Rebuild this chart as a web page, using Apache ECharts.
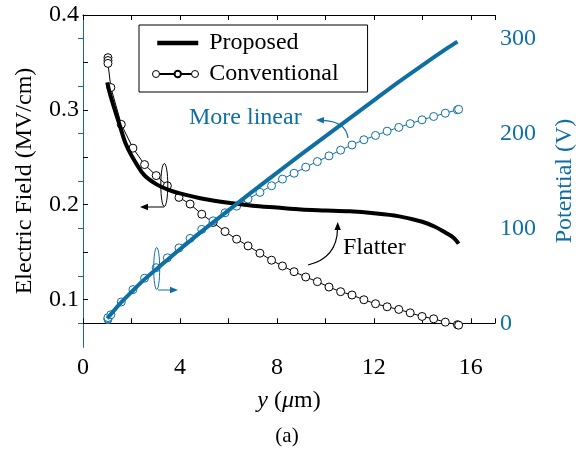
<!DOCTYPE html>
<html>
<head>
<meta charset="utf-8">
<script src="https://cdn.jsdelivr.net/npm/echarts@6.0.0/dist/echarts.min.js"></script>
<style>
  html, body { margin: 0; padding: 0; background: #fff; }
  #chart { width: 587px; height: 454px; }
</style>
</head>
<body>
<div id="chart"></div>
<script>
// values
var propEX = [1.0, 1.1, 1.25, 1.5, 1.75, 2, 2.5, 3, 3.5, 4, 5, 6, 7, 8, 9, 10, 11, 12, 13, 14, 14.5, 15, 15.3, 15.5];
var propE = [0.329, 0.318, 0.305, 0.285, 0.265, 0.252, 0.232, 0.222, 0.216, 0.212, 0.206, 0.202, 0.199, 0.197, 0.195, 0.194, 0.193, 0.191, 0.188, 0.182, 0.177, 0.170, 0.165, 0.159];

var propVX = [1.0, 1.5, 2, 2.5, 3, 4, 5, 6, 7, 8, 9, 10, 11, 12, 13, 14, 15, 15.45];
var propV = [5, 20, 33, 45.5, 56.5, 78, 99, 119, 139, 158.5, 178, 197, 216, 235, 254, 272, 289.5, 297];

var convX = [1.03, 1.03, 1.03, 1.15, 1.58, 2.06, 2.54, 3.02, 3.48, 3.96,
             4.42, 4.9, 5.37, 5.86, 6.34, 6.81, 7.3, 7.78,
             8.23, 8.71, 9.19, 9.67, 10.15, 10.63, 11.1, 11.59,
             12.07, 12.55, 13.03, 13.5, 13.99, 14.47, 14.95, 15.45, 15.5];
var convE = [0.355, 0.352, 0.349, 0.3235, 0.2847, 0.2596, 0.2423, 0.2307, 0.220, 0.2077,
             0.2007, 0.190, 0.1813, 0.1717, 0.1637, 0.1566, 0.1489, 0.1415,
             0.1354, 0.1294, 0.1238, 0.1189, 0.1132, 0.1083, 0.1048, 0.0998,
             0.0956, 0.0924, 0.0896, 0.086, 0.0822, 0.0797, 0.0762, 0.0735, 0.073];
var convV = [4, 5, 6, 9, 22.5, 35.5, 47.5, 58.6, 69, 79.5,
             89.5, 99, 108, 116.5, 123.5, 131, 138, 145,
             152, 158.2, 164.6, 170.5, 176.5, 182.5, 188, 193.5,
             198, 202.5, 206.5, 210.5, 214.5, 218, 221.5, 225, 225.5];

var xLabels = [0, 4, 8, 12, 16];
var eLabels = [0.1, 0.2, 0.3, 0.4];
var eTicks = [0.1, 0.15, 0.2, 0.25, 0.3, 0.35, 0.4];
var vLabels = [0, 100, 200, 300];
var vTicks = [0, 50, 100, 150, 200, 250, 300];

var BLUE = '#0f6fa3';
var FONT = 'Liberation Serif';

function pairs(xs, ys) {
    var out = [];
    for (var i = 0; i < xs.length; i++) out.push([xs[i], ys[i]]);
    return out;
}

// arrow head: tip at (tx,ty), coming from (fx,fy)
function arrowHead(tx, ty, fx, fy, color) {
    var a = Math.atan2(ty - fy, tx - fx);
    var len = 8, w = 3.2;
    var bx = tx - len * Math.cos(a), by = ty - len * Math.sin(a);
    return {
        type: 'polygon',
        shape: { points: [[tx, ty],
            [bx + w * Math.sin(a), by - w * Math.cos(a)],
            [bx - w * Math.sin(a), by + w * Math.cos(a)]] },
        style: { fill: color }
    };
}

var chart = echarts.init(document.getElementById('chart'));

var option = {
    animation: false,
    backgroundColor: '#fff',
    textStyle: { fontFamily: FONT },
    grid: { left: 83, right: 92, top: 15, bottom: 107 },
    legend: {
        data: [
            { name: 'Proposed', itemStyle: { opacity: 0 }, lineStyle: { width: 4.5, color: '#000' } },
            { name: 'Conventional' }
        ],
        orient: 'vertical',
        left: 139,
        top: 25,
        borderColor: '#000',
        borderWidth: 1,
        padding: [6, 29, 6, 16],
        itemGap: 7,
        itemWidth: 41,
        itemHeight: 8,
        textStyle: { fontFamily: FONT, fontSize: 24, color: '#000', padding: [0, 0, 0, 6] }
    },
    xAxis: [{
        type: 'value',
        min: 0, max: 17, interval: 2,
        name: '{i|y} ({i|\u03bc}m)',
        nameLocation: 'middle',
        nameGap: 42,
        nameTextStyle: {
            fontFamily: FONT, fontSize: 24, color: '#000',
            rich: { i: { fontFamily: FONT, fontSize: 24, fontStyle: 'italic', color: '#000' } }
        },
        axisLine: { lineStyle: { color: '#000', width: 1 } },
        axisTick: { inside: true, length: 5, lineStyle: { color: '#000' } },
        axisLabel: { customValues: xLabels, margin: 9, fontFamily: FONT, fontSize: 24, color: '#000' },
        splitLine: { show: false }
    }, {
        type: 'value',
        position: 'top',
        min: 0, max: 17, interval: 2,
        axisLine: { lineStyle: { color: '#000', width: 1 } },
        axisTick: { inside: true, length: 5, lineStyle: { color: '#000' } },
        axisLabel: { show: false },
        splitLine: { show: false }
    }],
    yAxis: [{
        type: 'value',
        min: 0.05, max: 0.4, interval: 0.05,
        name: 'Electric Field (MV/cm)',
        nameLocation: 'middle',
        nameRotate: 90,
        nameGap: 46,
        nameTextStyle: { fontFamily: FONT, fontSize: 24, color: '#000' },
        axisLine: { show: true, lineStyle: { color: '#000', width: 1 } },
        axisTick: { show: true, inside: true, length: 5, customValues: eTicks, lineStyle: { color: '#000' } },
        axisLabel: {
            customValues: eLabels, margin: 4, fontFamily: FONT, fontSize: 24, color: '#000',
            formatter: function (v) { return v.toFixed(1); }
        },
        splitLine: { show: false }
    }, {
        type: 'value',
        position: 'right',
        min: -25, max: 325, interval: 25,
        name: 'Potential (V)',
        nameLocation: 'middle',
        nameRotate: 90,
        nameGap: 58,
        nameTextStyle: { fontFamily: FONT, fontSize: 24, color: BLUE },
        axisLine: { show: true, lineStyle: { color: BLUE, width: 1 } },
        axisTick: { show: true, inside: true, length: 5, customValues: vTicks, lineStyle: { color: BLUE } },
        axisLabel: { customValues: vLabels, margin: 5, fontFamily: FONT, fontSize: 24, color: BLUE },
        splitLine: { show: false }
    }],
    series: [
        {
            name: 'Proposed',
            type: 'line',
            xAxisIndex: 0, yAxisIndex: 0,
            data: pairs(propEX, propE),
            smooth: 0.3,
            symbol: 'none',
            lineStyle: { color: '#000', width: 4 },
            itemStyle: { color: '#000' },
            z: 3
        },
        {
            name: 'Conventional',
            type: 'line',
            xAxisIndex: 0, yAxisIndex: 0,
            data: pairs(convX, convE),
            symbol: 'circle',
            symbolSize: 8,
            lineStyle: { color: '#000', width: 1 },
            itemStyle: { color: '#fff', borderColor: '#000', borderWidth: 1 },
            z: 2
        },
        {
            name: 'Proposed potential',
            type: 'line',
            xAxisIndex: 0, yAxisIndex: 1,
            data: pairs(propVX, propV),
            smooth: 0.3,
            symbol: 'none',
            lineStyle: { color: BLUE, width: 4 },
            itemStyle: { color: BLUE },
            z: 3
        },
        {
            name: 'Conventional potential',
            type: 'line',
            xAxisIndex: 0, yAxisIndex: 1,
            data: pairs(convX, convV),
            symbol: 'circle',
            symbolSize: 8,
            lineStyle: { color: BLUE, width: 1 },
            itemStyle: { color: '#fff', borderColor: BLUE, borderWidth: 1 },
            z: 2
        }
    ],
    graphic: [
        // extra circles on the Conventional legend icon
        { type: 'circle', shape: { cx: 156, cy: 74, r: 3.5 }, style: { fill: '#fff', stroke: '#000', lineWidth: 1 }, z: 100 },
        { type: 'circle', shape: { cx: 195, cy: 74, r: 3.5 }, style: { fill: '#fff', stroke: '#000', lineWidth: 1 }, z: 100 },

        // "More linear"
        { type: 'text', style: { text: 'More linear', x: 189, y: 118, verticalAlign: 'middle', font: '24px "Liberation Serif"', fill: BLUE }, z: 100 },
        { type: 'bezierCurve', shape: { x1: 348, y1: 138, x2: 322, y2: 120.3, cpx1: 346, cpy1: 121 }, style: { stroke: BLUE, lineWidth: 1.2, fill: null }, z: 100 },
        arrowHead(316, 120, 346, 121, BLUE),

        // "Flatter"
        { type: 'text', style: { text: 'Flatter', x: 343, y: 248, verticalAlign: 'middle', font: '24px "Liberation Serif"', fill: '#000' }, z: 100 },
        { type: 'bezierCurve', shape: { x1: 308, y1: 265, x2: 337.5, y2: 229, cpx1: 337, cpy1: 258 }, style: { stroke: '#000', lineWidth: 1.2, fill: null }, z: 100 },
        arrowHead(337.7, 222, 337.6, 240, '#000'),

        // left-axis marker
        { type: 'ellipse', shape: { cx: 164.3, cy: 185, rx: 3.5, ry: 21.5 }, style: { stroke: '#000', lineWidth: 1, fill: null }, z: 100 },
        { type: 'line', shape: { x1: 164, y1: 207, x2: 147, y2: 207 }, style: { stroke: '#000', lineWidth: 1 }, z: 100 },
        arrowHead(140, 207, 164, 207, '#000'),

        // right-axis marker
        { type: 'ellipse', shape: { cx: 156.7, cy: 268.5, rx: 3, ry: 21 }, style: { stroke: BLUE, lineWidth: 1, fill: null }, z: 100 },
        { type: 'line', shape: { x1: 158, y1: 290, x2: 171, y2: 290 }, style: { stroke: BLUE, lineWidth: 1 }, z: 100 },
        arrowHead(178, 290, 158, 290, BLUE),

        // caption
        { type: 'text', style: { text: '(a)', x: 287, y: 436, align: 'center', verticalAlign: 'middle', font: '21px "Liberation Serif"', fill: '#000' }, z: 100 }
    ]
};

chart.setOption(option);
</script>
</body>
</html>
